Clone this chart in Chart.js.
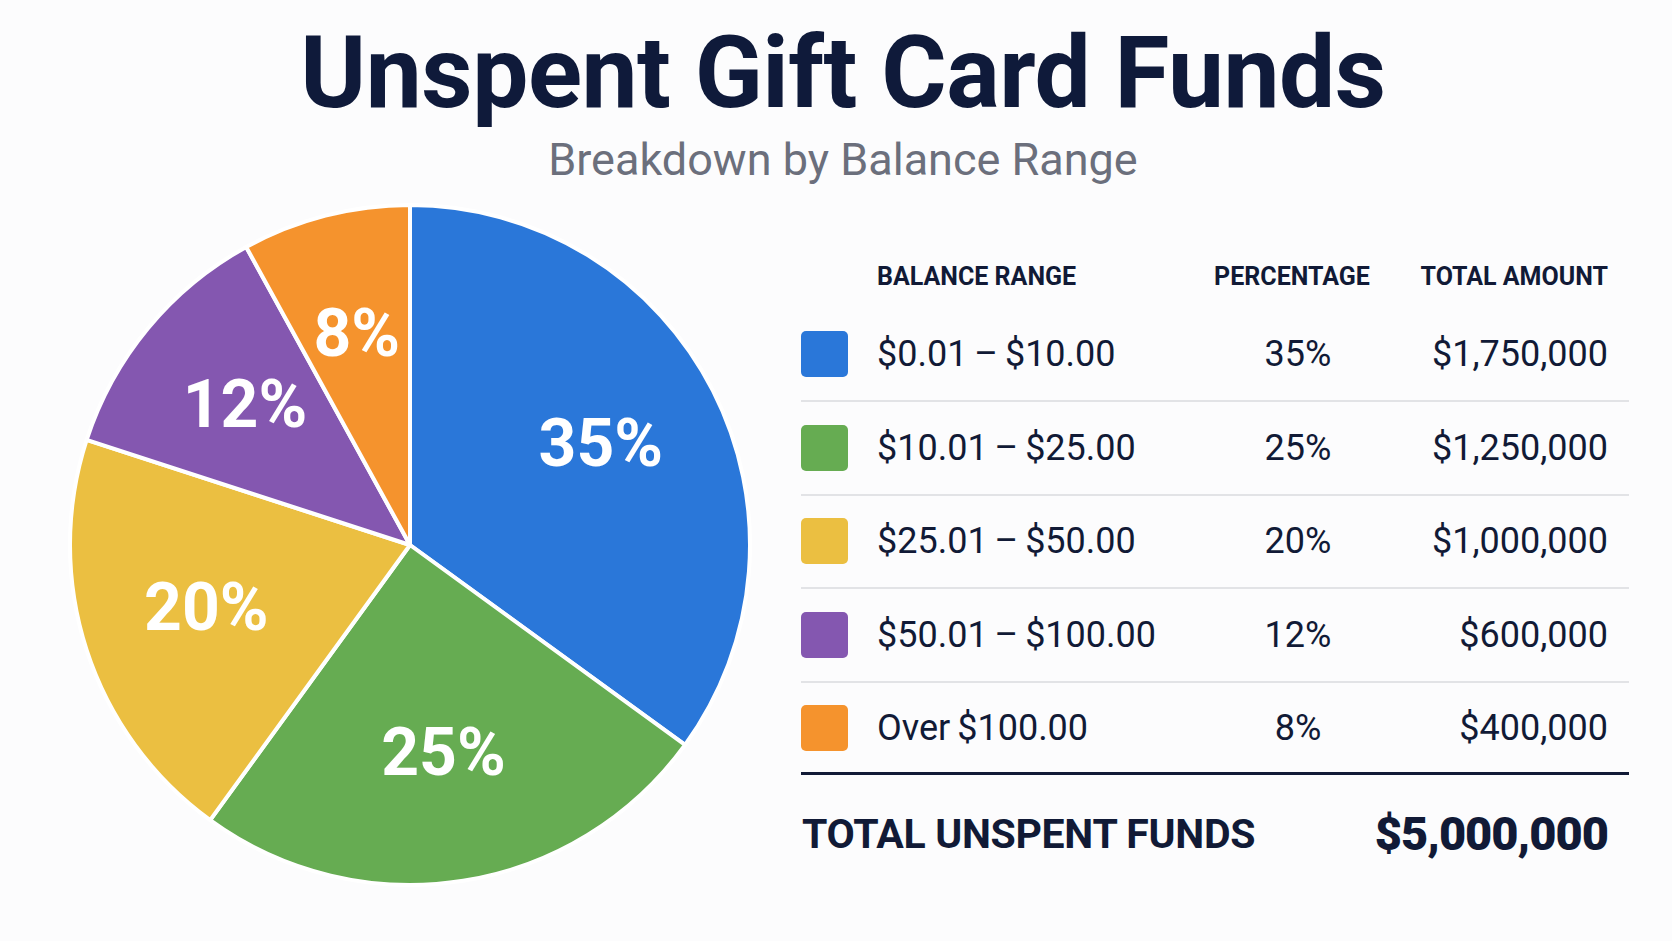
<!DOCTYPE html>
<html>
<head>
<meta charset="utf-8">
<script src="https://cdn.jsdelivr.net/npm/chart.js@4.4.1/dist/chart.umd.min.js"></script>
<style>
  html, body { margin: 0; padding: 0; }
  body {
    width: 1672px; height: 941px; overflow: hidden; position: relative;
    background: #fcfcfd; font-family: Roboto, "Noto Sans", sans-serif; color: #111a36;
  }
  .abs { position: absolute; white-space: nowrap; }
  #title { left: 0; width: 1686px; text-align: center; top: 23px; height: 100px; line-height: 100px;
    font-size: 100px; font-weight: 700; color: #0f1a3a; letter-spacing: -0.5px; }
  #subtitle { left: 0; width: 1686px; text-align: center; top: 137px; height: 46px; line-height: 46px;
    font-size: 45px; color: #6b6f7c; }
  #pieWrap { position: absolute; left: 68px; top: 203px; width: 684px; height: 684px; }
  .head { font-size: 25px; font-weight: 700; height: 30px; line-height: 30px; color: #111a36; }
  .cell { font-size: 36px; height: 40px; line-height: 40px; color: #111a36; }
  .range { word-spacing: -2px; }
  .swatch { width: 47px; height: 46px; border-radius: 5px; }
  .sep { left: 801px; width: 828px; height: 2px; background: #e2e3e6; }
</style>
</head>
<body>
<div id="title" class="abs">Unspent Gift Card Funds</div>
<div id="subtitle" class="abs">Breakdown by Balance Range</div>
<div id="pieWrap"><canvas id="pie" width="684" height="684"></canvas></div>
<div id="table"></div>

<script>
const ranges = ["$0.01 – $10.00", "$10.01 – $25.00", "$25.01 – $50.00", "$50.01 – $100.00", "Over $100.00"];
const shares = [35, 25, 20, 12, 8];
const amounts = [1750000, 1250000, 1000000, 600000, 400000];
const totalFunds = 5000000;
const headers = ["BALANCE RANGE", "PERCENTAGE", "TOTAL AMOUNT"];
const totalLabel = "TOTAL UNSPENT FUNDS";

const colors = ["#2a77d9", "#66ac52", "#ebbf41", "#8457b0", "#f5932d"];

const money = v => "$" + v.toLocaleString("en-US");

// table on the right
const table = document.getElementById("table");
function addDiv(cls, style, text) {
  const d = document.createElement("div");
  d.className = "abs " + cls;
  Object.assign(d.style, style);
  if (text !== undefined) d.textContent = text;
  table.appendChild(d);
  return d;
}

addDiv("head", { left: "877px", top: "262px" }, headers[0]);
addDiv("head", { left: "1142px", width: "300px", textAlign: "center", top: "262px" }, headers[1]);
addDiv("head", { right: (1672 - 1608) + "px", top: "262px" }, headers[2]);

ranges.forEach((r, i) => {
  const cy = 354 + i * 93.5;
  addDiv("swatch", { left: "801px", top: (cy - 23) + "px", background: colors[i] });
  addDiv("cell range", { left: "877px", top: (cy - 20) + "px" }, r);
  addDiv("cell", { left: "1148px", width: "300px", textAlign: "center", top: (cy - 20) + "px" }, shares[i] + "%");
  addDiv("cell", { right: (1672 - 1608) + "px", top: (cy - 20) + "px" }, money(amounts[i]));
  if (i < ranges.length - 1) addDiv("sep", { top: (cy + 46) + "px" });
});

addDiv("", { left: "801px", width: "828px", top: "772px", height: "3px", background: "#111a36" });
addDiv("", { left: "802px", top: "812px", height: "44px", lineHeight: "44px", fontSize: "41px", fontWeight: "700", letterSpacing: "-0.3px" }, totalLabel);
addDiv("", { right: (1672 - 1608) + "px", top: "807px", height: "54px", lineHeight: "54px", fontSize: "47px", fontWeight: "900", letterSpacing: "-1px" }, money(totalFunds));

// pie
const sliceLabels = {
  id: "sliceLabels",
  afterDatasetsDraw(chart) {
    const ctx = chart.ctx;
    const meta = chart.getDatasetMeta(0);
    ctx.save();
    ctx.fillStyle = "#ffffff";
    ctx.font = "700 66px Roboto, sans-serif";
    ctx.textAlign = "center";
    ctx.textBaseline = "middle";
    meta.data.forEach((arc, i) => {
      const p = arc.getProps(["x", "y", "startAngle", "endAngle", "outerRadius"], true);
      const mid = (p.startAngle + p.endAngle) / 2;
      const d = p.outerRadius * 0.63;
      ctx.fillText(shares[i] + "%", p.x + Math.cos(mid) * d, p.y + Math.sin(mid) * d + 2);
    });
    ctx.restore();
  }
};

new Chart(document.getElementById("pie"), {
  type: "pie",
  data: {
    labels: ranges,
    datasets: [{
      data: shares,
      backgroundColor: colors,
      borderColor: "#ffffff",
      borderWidth: 4
    }]
  },
  options: {
    responsive: false,
    animation: false,
    layout: { padding: 0 },
    plugins: {
      legend: { display: false },
      tooltip: { enabled: false }
    }
  },
  plugins: [sliceLabels]
});
</script>
</body>
</html>
